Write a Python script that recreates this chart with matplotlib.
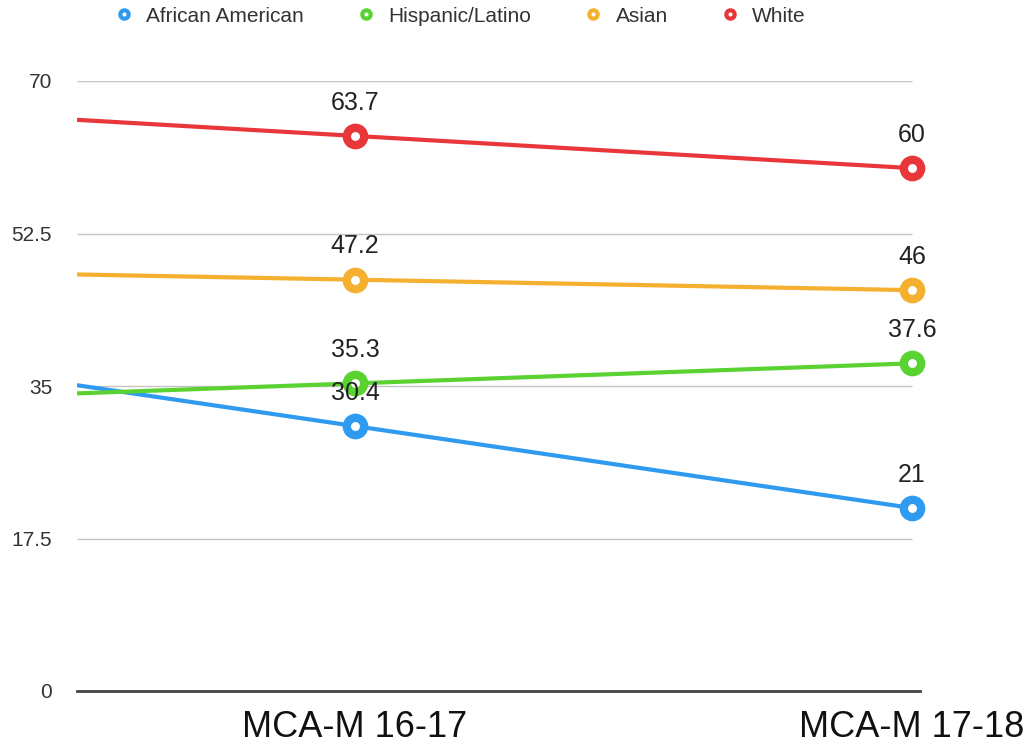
import matplotlib.pyplot as plt
from matplotlib.lines import Line2D

plt.rcParams["font.family"] = ["Liberation Sans", "DejaVu Sans"]

categories = ["MCA-M 16-17", "MCA-M 17-18"]
groups = ["African American", "Hispanic/Latino", "Asian", "White"]
values = {
    "African American": [30.4, 21],
    "Hispanic/Latino": [35.3, 37.6],
    "Asian": [47.2, 46],
    "White": [63.7, 60],
}
colors = {
    "African American": "#2f9bf0",
    "Hispanic/Latino": "#5ad332",
    "Asian": "#f5b030",
    "White": "#e8363a",
}
yticks = [0, 17.5, 35, 52.5, 70]
ytick_labels = ["0", "17.5", "35", "52.5", "70"]

fig = plt.figure(figsize=(10.34, 7.52), dpi=100)
ax = fig.add_axes([77 / 1034, 1 - 691 / 752, (920 - 77) / 1034, (691 - 81) / 752])

x = list(range(len(categories)))
ax.set_xlim(-0.499, 1.0144)
ax.set_ylim(0, 70)

# gridlines stop at the last category
ax.hlines([t for t in yticks if t > 0], -0.499, x[-1], color="#c4c4c4", lw=1.0, zorder=1)

for g in groups:
    v = values[g]
    c = colors[g]
    # line continues to the left edge of the plot
    ax.axline((x[0], v[0]), (x[1], v[1]), color=c, lw=3, zorder=2, solid_capstyle="butt")
    ax.plot(x, v, linestyle="none", marker="o", ms=12.5, mew=6, mec=c, mfc="white",
            zorder=3, clip_on=False)
    for xi, vi in zip(x, v):
        ax.annotate(f"{vi:g}", (xi, vi), xytext=(0, 24), textcoords="offset points",
                    ha="center", va="center", fontsize=18, color="#222222", zorder=4)

ax.set_xticks(x)
ax.set_xticklabels(categories, fontsize=26, color="#111111")
ax.set_yticks(yticks)
ax.set_yticklabels(ytick_labels, fontsize=15, color="#333333")
ax.tick_params(axis="x", length=0, pad=14)
ax.tick_params(axis="y", length=0, pad=18)

for s in ["top", "right", "left"]:
    ax.spines[s].set_visible(False)
ax.spines["bottom"].set_color("#444444")
ax.spines["bottom"].set_linewidth(2)

handles = [Line2D([], [], linestyle="none", marker="o", ms=6, mew=3, mec=colors[g],
                  mfc="white") for g in groups]
fig.legend(handles, groups, loc="center left", bbox_to_anchor=(114 / 1034, 1 - 16 / 752),
           ncol=4, frameon=False, fontsize=15, handlelength=1.0, handletextpad=0.56,
           columnspacing=2.48, borderpad=0, borderaxespad=0, labelcolor="#333333")

fig.savefig("out.png", dpi=100)
